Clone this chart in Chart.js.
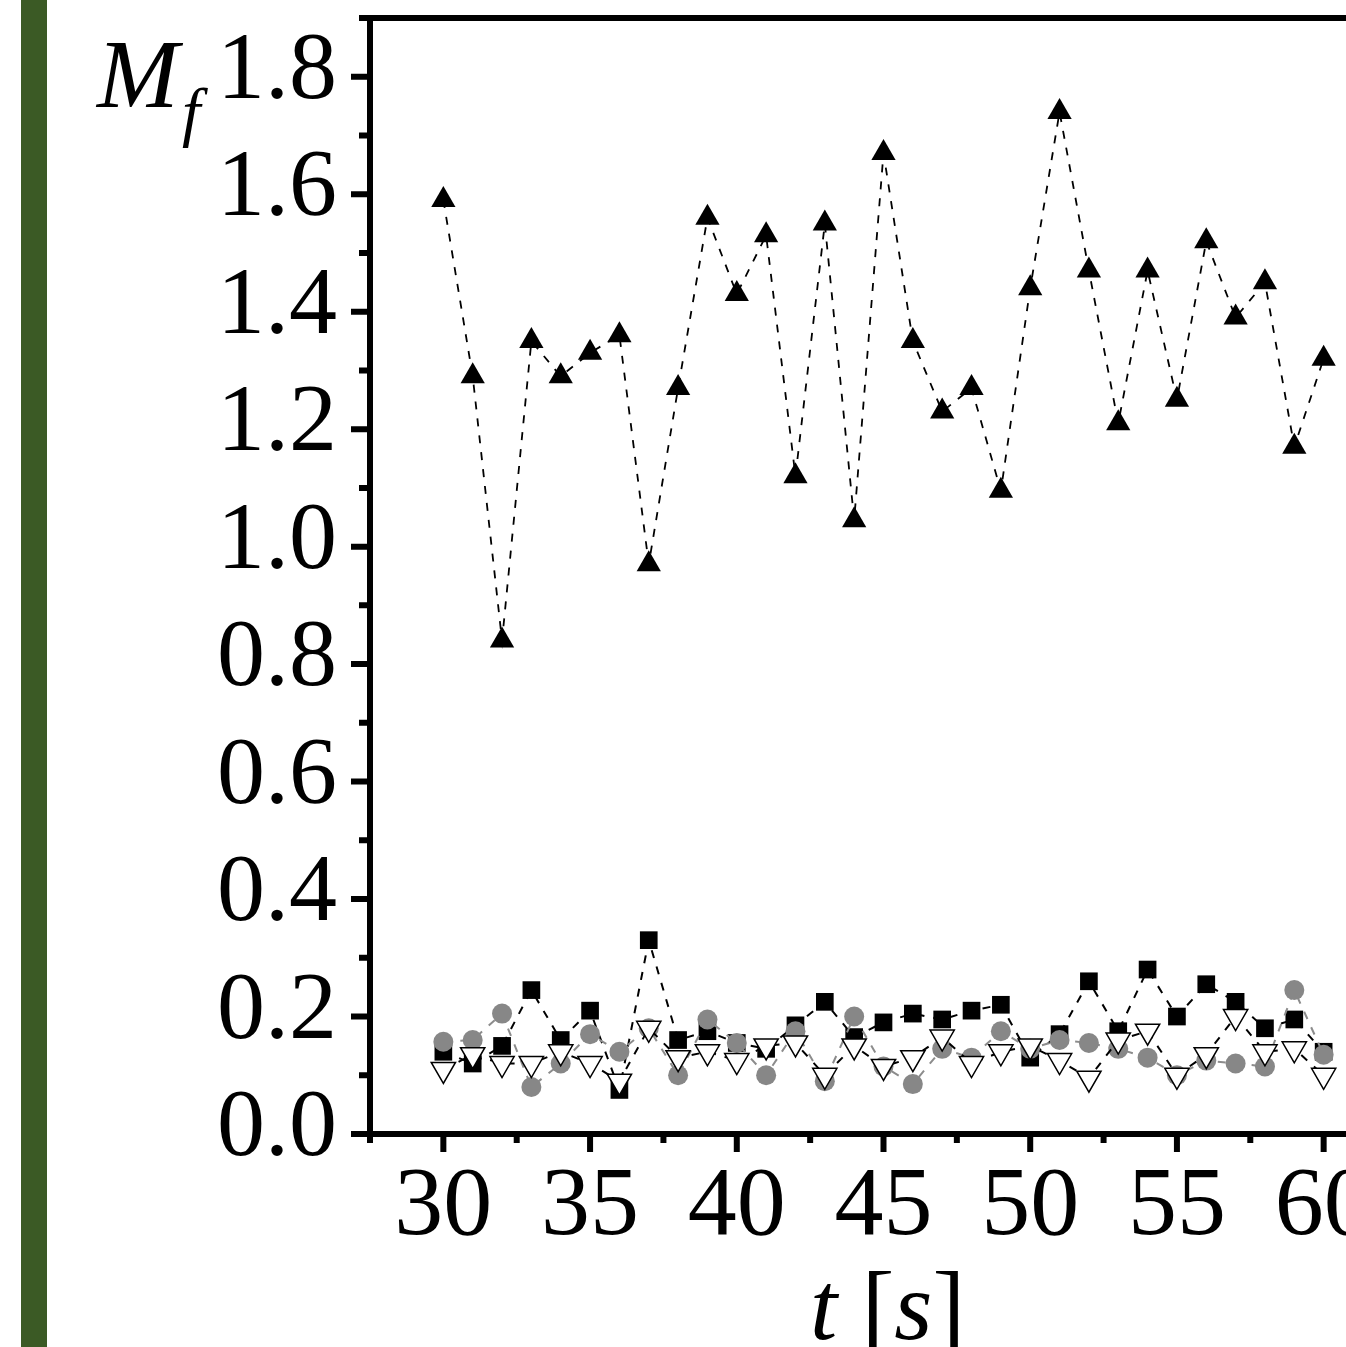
<!DOCTYPE html>
<html><head><meta charset="utf-8">
<script src="https://cdn.jsdelivr.net/npm/chart.js@4/dist/chart.umd.min.js"></script>
<style>
html,body{margin:0;padding:0;overflow:hidden;background:#fff;width:1346px;height:1347px;}
#wrap{position:absolute;left:0;top:0;width:1420px;height:1347px;}
#bar{position:absolute;left:21px;top:0;width:26px;height:1347px;background:#3b5a25;}
</style></head><body>
<div id="wrap"><canvas id="c" width="1420" height="1347"></canvas></div>
<div id="bar"></div>
<script>
// ---- data ----
const times = [30,31,32,33,34,35,36,37,38,39,40,41,42,43,44,45,46,47,48,49,50,51,52,53,54,55,56,57,58,59,60];
const upTriangle = [1.59,1.29,0.84,1.35,1.29,1.33,1.36,0.97,1.27,1.56,1.43,1.53,1.12,1.55,1.045,1.67,1.35,1.23,1.27,1.095,1.44,1.74,1.47,1.21,1.47,1.25,1.52,1.39,1.45,1.17,1.32];
const squares = [0.14,0.12,0.15,0.245,0.16,0.21,0.075,0.33,0.16,0.175,0.155,0.145,0.185,0.225,0.165,0.19,0.205,0.195,0.21,0.22,0.13,0.17,0.26,0.175,0.28,0.20,0.255,0.225,0.18,0.195,0.14];
const circles = [0.157,0.16,0.205,0.08,0.12,0.17,0.14,0.18,0.10,0.195,0.155,0.10,0.175,0.09,0.20,0.115,0.085,0.145,0.13,0.175,0.145,0.16,0.155,0.145,0.13,0.10,0.125,0.12,0.115,0.245,0.135];
const downTriangle = [0.11,0.135,0.12,0.12,0.14,0.12,0.09,0.18,0.13,0.14,0.125,0.15,0.155,0.10,0.15,0.115,0.13,0.165,0.12,0.14,0.15,0.125,0.095,0.16,0.175,0.10,0.135,0.20,0.14,0.145,0.10];
const xTickValues = [30,35,40,45,50,55,60];
const xTickLabels = ['30','35','40','45','50','55','60'];
const xMinorTicks = [27.5,32.5,37.5,42.5,47.5,52.5,57.5,62.5];
const yTickValues = [0,0.2,0.4,0.6,0.8,1.0,1.2,1.4,1.6,1.8];
const yTickLabels = ['0.0','0.2','0.4','0.6','0.8','1.0','1.2','1.4','1.6','1.8'];
const yMinorTicks = [0.1,0.3,0.5,0.7,0.9,1.1,1.3,1.5,1.7,1.9];

const pts = arr => times.map((t,i)=>({x:t,y:arr[i]}));
const SERIF = '"Liberation Serif","Times New Roman",serif';

const framePlugin = {
  id:'frame',
  afterDraw(chart){
    const {ctx, chartArea:a, scales:{x,y}} = chart;
    ctx.save();
    ctx.strokeStyle='#000';
    ctx.lineCap='butt';
    ctx.lineWidth=6;
    ctx.beginPath();
    ctx.moveTo(a.left, a.top-3); ctx.lineTo(a.left, a.bottom+3);
    ctx.moveTo(a.left-3, a.bottom); ctx.lineTo(chart.width, a.bottom);
    ctx.moveTo(a.left-3, a.top); ctx.lineTo(chart.width, a.top);
    ctx.stroke();
    ctx.beginPath();
    xTickValues.forEach(v=>{const p=x.getPixelForValue(v); ctx.moveTo(p,a.bottom); ctx.lineTo(p,a.bottom+18);});
    xMinorTicks.forEach(v=>{const p=x.getPixelForValue(v); ctx.moveTo(p,a.bottom); ctx.lineTo(p,a.bottom+9);});
    yTickValues.forEach(v=>{const p=y.getPixelForValue(v); ctx.moveTo(a.left,p); ctx.lineTo(a.left-19,p);});
    yMinorTicks.forEach(v=>{const p=y.getPixelForValue(v); ctx.moveTo(a.left,p); ctx.lineTo(a.left-11,p);});
    ctx.stroke();
    // titles
    ctx.fillStyle='#000';
    ctx.textBaseline='alphabetic';
    ctx.textAlign='left';
    ctx.font='italic 98px '+SERIF;
    ctx.fillText('M',97,107);
    ctx.font='italic 66px '+SERIF;
    ctx.fillText('f',182,134);
    let cx = 810;
    const parts=[['italic','t '],['normal','['],['italic','s'],['normal',']']];
    parts.forEach(([st,txt])=>{
      ctx.font=st+' 98px '+SERIF;
      ctx.fillText(txt,cx,1339);
      cx += ctx.measureText(txt).width;
    });
    ctx.restore();
  }
};

new Chart(document.getElementById('c'),{
  type:'scatter',
  data:{datasets:[
    {label:'down', data:pts(downTriangle), showLine:true, borderColor:'#000', borderWidth:2, borderDash:[8,9],
     pointStyle:'triangle', rotation:180, pointRadius:14, pointHoverRadius:14, pointBackgroundColor:'#fff', pointBorderColor:'#000', pointBorderWidth:1.5},
    {label:'circles', data:pts(circles), showLine:true, borderColor:'#8c8c8c', borderWidth:2, borderDash:[8,9],
     pointStyle:'circle', pointRadius:10, pointHoverRadius:10, pointBackgroundColor:'#878787', pointBorderColor:'#878787', pointBorderWidth:0},
    {label:'squares', data:pts(squares), showLine:true, borderColor:'#000', borderWidth:2, borderDash:[8,9],
     pointStyle:'rect', pointRadius:12.5, pointHoverRadius:12.5, pointBackgroundColor:'#000', pointBorderColor:'#000', pointBorderWidth:0},
    {label:'up', data:pts(upTriangle), showLine:true, borderColor:'#000', borderWidth:1.8, borderDash:[8,9],
     pointStyle:'triangle', pointRadius:14, pointHoverRadius:14, pointBackgroundColor:'#000', pointBorderColor:'#000', pointBorderWidth:0}
  ]},
  options:{
    responsive:false, animation:false, devicePixelRatio:1,
    layout:{padding:{left:0,top:18,right:23,bottom:0}},
    plugins:{legend:{display:false}, tooltip:{enabled:false}},
    scales:{
      x:{type:'linear', min:27.5, max:62.5,
         afterBuildTicks:s=>{s.ticks=xTickValues.map(v=>({value:v}));},
         afterFit:s=>{s.height=213; s.paddingLeft=0; s.paddingRight=0;},
         grid:{display:false, drawTicks:false, tickLength:0},
         border:{display:false},
         ticks:{autoSkip:false, maxRotation:0, padding:15, color:'#000',
                font:{family:SERIF, size:98},
                callback:v=>xTickLabels[xTickValues.indexOf(v)]}},
      y:{type:'linear', min:0, max:1.9,
         afterBuildTicks:s=>{s.ticks=yTickValues.map(v=>({value:v}));},
         afterFit:s=>{s.width=370; s.paddingTop=0; s.paddingBottom=0;},
         grid:{display:false, drawTicks:false, tickLength:0},
         border:{display:false},
         ticks:{autoSkip:false, padding:33, labelOffset:-4, color:'#000',
                font:{family:SERIF, size:96},
                callback:v=>yTickLabels[yTickValues.findIndex(t=>Math.abs(t-v)<1e-9)]}}
    }
  },
  plugins:[framePlugin]
});
</script>
</body></html>
